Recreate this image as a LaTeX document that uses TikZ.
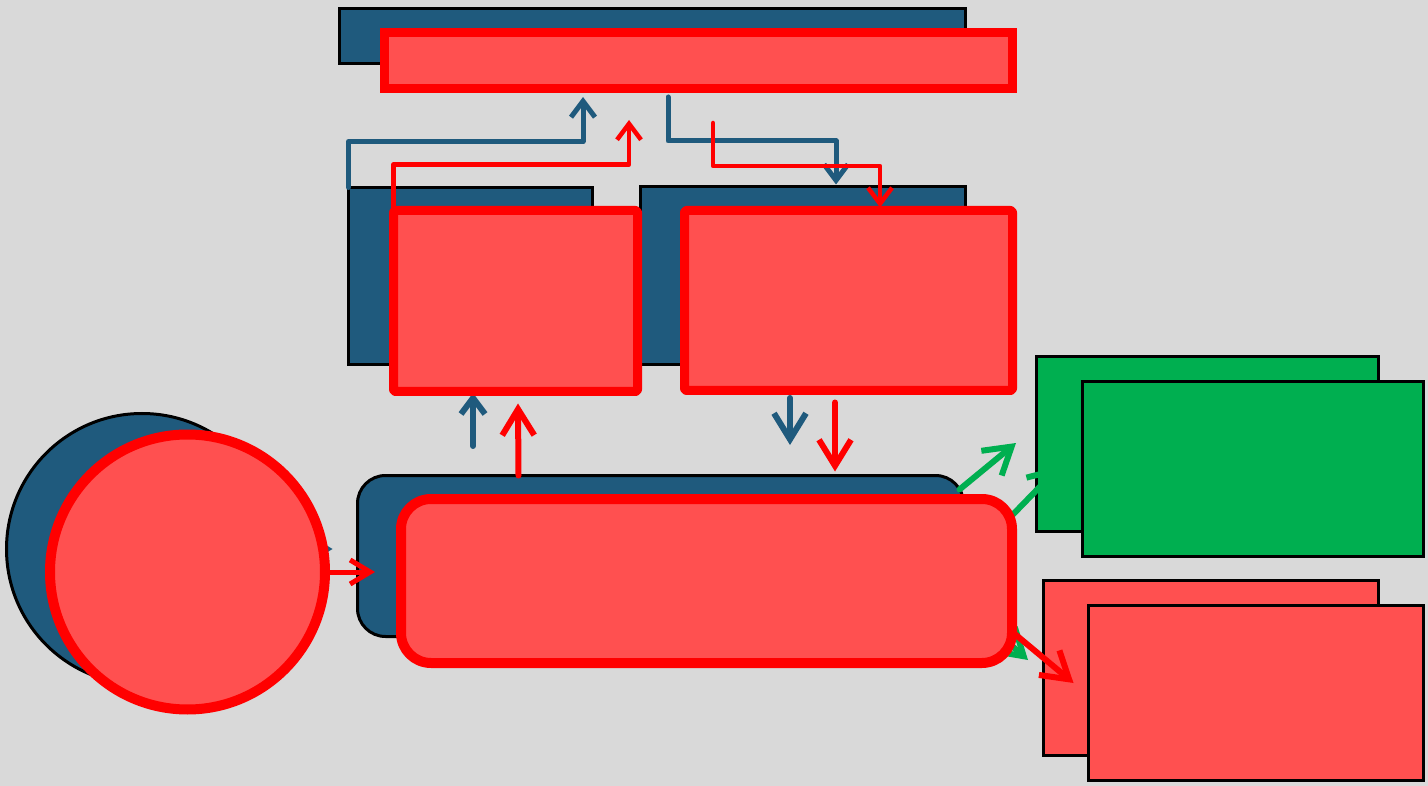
\documentclass[tikz,border=0pt]{standalone}
\usetikzlibrary{arrows.meta,calc}
\definecolor{bgc}{HTML}{D9D9D9}
\definecolor{navy}{HTML}{1F5A7D}
\definecolor{pinkf}{HTML}{FF5050}
\definecolor{grn}{HTML}{00AF50}
\begin{document}
\begin{tikzpicture}[x=1pt,y=-1pt,line cap=round,line join=round,
  blue box/.style={rectangle,draw=black,line width=3pt,fill=navy,inner sep=0pt,outer sep=0pt,line join=miter},
  red box/.style={rectangle,draw=red,line width=9pt,fill=pinkf,inner sep=0pt,outer sep=0pt,rounded corners=2pt},
  out box/.style={rectangle,draw=black,line width=3.5pt,inner sep=0pt,outer sep=0pt,line join=miter},
  blink/.style={draw=navy,line width=5pt},
  rlink/.style={draw=red,line width=4.5pt},
  glink/.style={draw=grn,line width=6pt},
  small head/.style={-{Straight Barb[length=16pt,width=24pt]}},
  big head/.style={-{Straight Barb[length=26pt,width=32pt]}}]
\fill[bgc] (0,0) rectangle (1428,786);
\useasboundingbox (0,0) rectangle (1428,786);
% output boxes
\node[out box,fill=grn,minimum width=342pt,minimum height=175pt] (gB) at (1207.5,444) {};
\node[out box,fill=grn,minimum width=341pt,minimum height=175pt] (gF) at (1253,469) {};
\node[out box,fill=pinkf,minimum width=335pt,minimum height=175pt] (pB) at (1211,668) {};
\node[out box,fill=pinkf,minimum width=335pt,minimum height=175pt] (pF) at (1256,693) {};
% blue layer
\node[blue box,minimum width=626pt,minimum height=55pt] (bT) at (652.5,36) {};
\node[blue box,minimum width=244pt,minimum height=177pt] (bL) at (470.5,276) {};
\node[blue box,minimum width=325pt,minimum height=178pt] (bR) at (803,275.5) {};
\node[blue box,line join=round,rounded corners=28pt,minimum width=606pt,minimum height=161pt] (bM) at (660.5,556) {};
\node[blue box,circle,minimum size=271pt] (bC) at (142,549) {};
% free ends
\coordinate (bTip1) at (583,97);
\coordinate (bS2) at (668,97);
\coordinate (bV1) at (473,446);
\coordinate (bV2) at (790,398);
\coordinate (rTip1) at (629,120);
\coordinate (rS2) at (713,123);
\coordinate (gA1) at (1016,443);
\coordinate (gB1) at (1060,466);
\coordinate (gC1) at (1028,660);
% blue links
\draw[blink,small head] (bL.north west) -- ++(0,-46) -| (bTip1);
\draw[blink,small head] (bS2) -- ++(0,44) -| ($(bR.north)+(33,-2)$);
\draw[blink,line width=6pt,small head] (bV1) -- ($(bV1)+(0,-53)$);
\draw[blink,line width=6pt,big head] (bV2) -- ($(bV2)+(0,47)$);
\draw[blink,big head] (bC.east) -- ($(bC.east)+(55,0)$);
% green links
\draw[glink,big head] ($(bM.north east)+(-4,14)$) -- (gA1);
\draw[glink,big head] ($(gC1)+(-50,-44)$) -- (gC1);
\draw[glink,big head] ($(gB1)+(-66,68)$) -- (gB1);
% red layer
\node[red box,line join=miter,rounded corners=0pt,minimum width=628pt,minimum height=56pt] (rT) at (698.5,60.5) {};
\node[red box,minimum width=244pt,minimum height=181pt] (rL) at (515.5,301) {};
\node[red box,minimum width=328pt,minimum height=180pt] (rR) at (848.5,300.5) {};
\node[red box,line width=10pt,rounded corners=30pt,minimum width=611pt,minimum height=164pt] (rM) at (706.5,581) {};
\node[red box,line width=10pt,circle,minimum size=275pt] (rC) at (187.5,572) {};
% red links
\draw[rlink,small head] ($(rL.north west)+(0,-2)$) -- ++(0,-44) -| (rTip1);
\draw[rlink,small head] (rS2) -- ++(0,43) -| ($(rR.north)+(31.5,-3)$);
\draw[rlink,line width=6pt,big head] ($(bM.north)+(-142,0)$) -- ($(rL.south)+(2.5,12)$);
\draw[rlink,line width=6pt,big head] ($(rR.south)+(-13.5,12)$) -- ($(bM.north)+(174.5,-4)$);
\draw[rlink,line width=5pt,-{Straight Barb[length=20pt,width=24pt]}] (rC.east) -- ($(rC.east)+(50,0)$);
\draw[rlink,line width=6pt,big head] ($(rM.south east)+(-2,-33)$) -- ($(pB.west)+(30,15)$);
\end{tikzpicture}
\end{document}
